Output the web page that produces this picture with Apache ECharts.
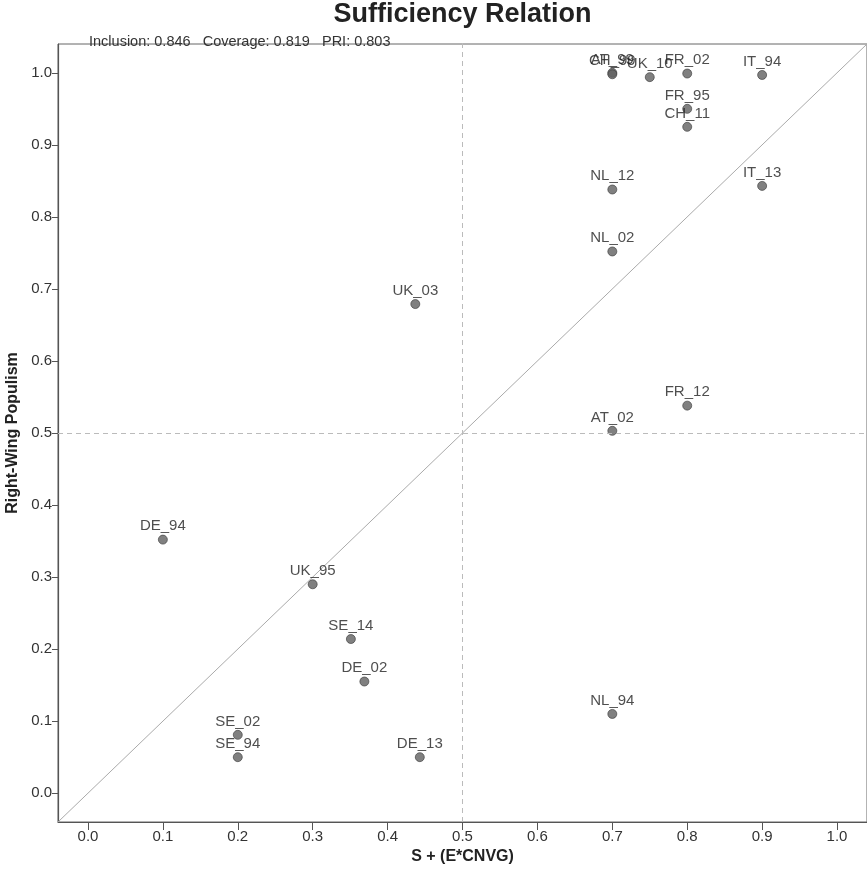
<!DOCTYPE html>
<html>
<head>
<meta charset="utf-8">
<script src="https://cdn.jsdelivr.net/npm/echarts@6/dist/echarts.min.js"></script>
<style>
  html, body { margin: 0; padding: 0; background: #fff; }
  #chart { width: 867px; height: 873px; }
</style>
</head>
<body>
<div id="chart"></div>
<script>
// Cases: condition membership (x) against outcome membership (y)
const caseLabels = ['AT_99', 'CH_99', 'UK_10', 'FR_02', 'IT_94', 'FR_95', 'CH_11', 'NL_12', 'IT_13', 'NL_02',
  'UK_03', 'FR_12', 'AT_02', 'DE_94', 'UK_95', 'SE_14', 'DE_02', 'SE_02', 'SE_94', 'DE_13', 'NL_94'];
const conditionValues = [0.70, 0.70, 0.75, 0.80, 0.90, 0.80, 0.80, 0.70, 0.90, 0.70,
  0.437, 0.80, 0.70, 0.10, 0.30, 0.351, 0.369, 0.20, 0.20, 0.443, 0.70];
const outcomeValues = [1.00, 0.998, 0.994, 0.999, 0.997, 0.950, 0.925, 0.838, 0.843, 0.752,
  0.679, 0.538, 0.503, 0.352, 0.290, 0.214, 0.155, 0.081, 0.050, 0.050, 0.110];

const tickValues = [0, 0.1, 0.2, 0.3, 0.4, 0.5, 0.6, 0.7, 0.8, 0.9, 1.0];
const axisMin = -0.04;
const axisMax = 1.04;
const thresholdX = 0.5;
const thresholdY = 0.5;

const titleText = 'Sufficiency Relation';
const fitText = 'Inclusion: 0.846   Coverage: 0.819   PRI: 0.803';
const xTitle = 'S + (E*CNVG)';
const yTitle = 'Right-Wing Populism';

const FONT = '"Liberation Sans", Arial, sans-serif';
const GRID = { left: 58, right: 0, top: 44, bottom: 51 };
const points = caseLabels.map((name, i) => ({ name: name, value: [conditionValues[i], outcomeValues[i]] }));

function valueAxis(name, nameGap, labelMargin, tickLength) {
  return {
    type: 'value',
    min: axisMin,
    max: axisMax,
    name: name,
    nameGap: nameGap,
    nameLocation: 'middle',
    nameTextStyle: { color: '#222', fontSize: 16, fontWeight: 'bold', fontFamily: FONT },
    splitLine: { show: false },
    axisLine: { show: true, onZero: false, lineStyle: { color: '#555', width: 1.2 } },
    axisTick: { show: true, customValues: tickValues, length: tickLength, lineStyle: { color: '#555', width: 1 } },
    axisLabel: {
      customValues: tickValues,
      formatter: v => v.toFixed(1),
      margin: labelMargin,
      color: '#333', fontSize: 15, fontFamily: FONT
    }
  };
}

const chartEl = document.getElementById('chart');
const chart = echarts.init(chartEl, null, { renderer: 'canvas' });
// The title is centred over the plotting area rather than the whole canvas
const plotCenterX = GRID.left + (chartEl.clientWidth - GRID.left - GRID.right) / 2;

chart.setOption({
  backgroundColor: '#fff',
  animation: false,
  graphic: [
    { type: 'text', x: plotCenterX, y: 1, style: {
        text: titleText, align: 'center', verticalAlign: 'top',
        font: 'bold 27px ' + FONT, fill: '#222' } }
  ],
  title: [
    { text: fitText, left: 84, top: 29,
      textStyle: { fontSize: 14.5, fontWeight: 'normal', color: '#333', fontFamily: FONT } }
  ],
  grid: Object.assign({}, GRID, {
    outerBoundsMode: 'none',
    containLabel: false,
    show: true, borderColor: '#666', borderWidth: 1
  }),
  xAxis: valueAxis(xTitle, 22, 7, 8),
  yAxis: valueAxis(yTitle, 32, 6, 6),
  series: [
    {
      type: 'line',
      silent: true,
      symbol: 'none',
      data: [[axisMin, axisMin], [axisMax, axisMax]],
      lineStyle: { color: '#aaa', width: 1 },
      markLine: {
        silent: true,
        symbol: 'none',
        label: { show: false },
        lineStyle: { color: '#bbb', type: [5, 4], width: 1 },
        data: [{ xAxis: thresholdX }, { yAxis: thresholdY }]
      },
      z: 1
    },
    {
      type: 'scatter',
      data: points,
      symbolSize: 9,
      itemStyle: { color: '#606060', borderColor: '#3a3a3a', borderWidth: 0.8 },
      label: {
        show: true,
        position: 'top',
        distance: 1,
        formatter: p => p.name,
        color: '#222', fontSize: 15, fontFamily: FONT
      },
      labelLayout: { hideOverlap: false },
      z: 3
    }
  ]
});
</script>
</body>
</html>
